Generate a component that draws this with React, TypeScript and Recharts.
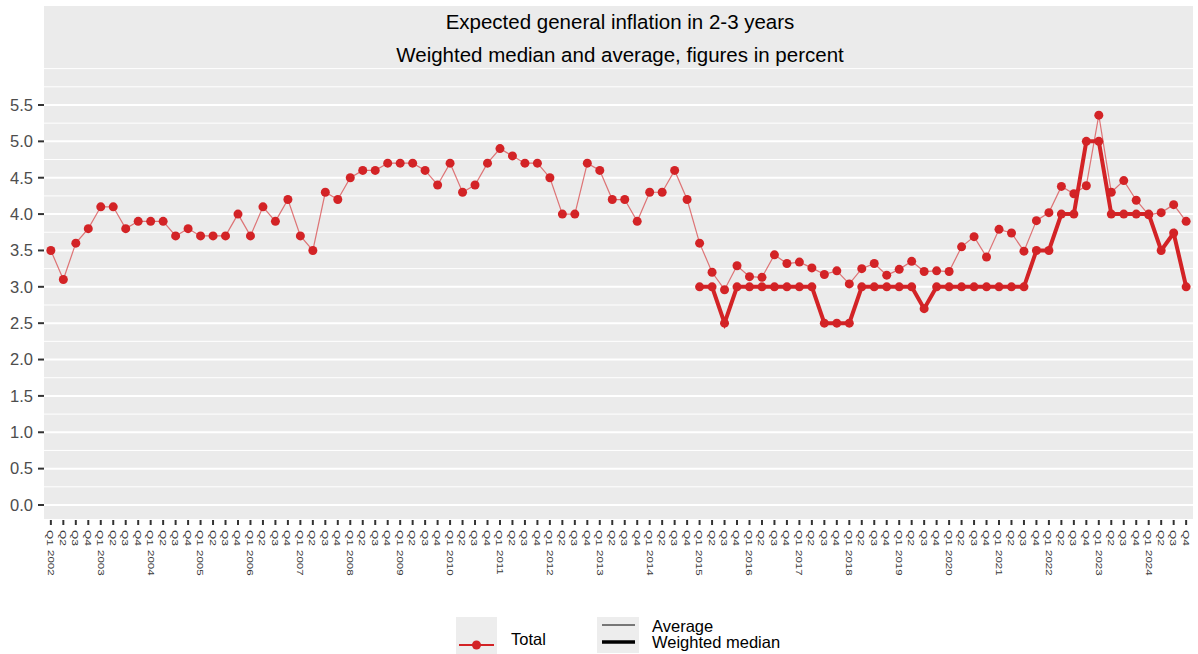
import { CartesianGrid, Line, LineChart, ReferenceLine, XAxis, YAxis } from "recharts";

const YEARS = [
  2002, 2003, 2004, 2005, 2006, 2007, 2008, 2009, 2010, 2011, 2012, 2013,
  2014, 2015, 2016, 2017, 2018, 2019, 2020, 2021, 2022, 2023, 2024,
];
const QUARTERS = ["Q1", "Q2", "Q3", "Q4"];

// Average, one value per quarter from Q1 2002 to Q4 2024
const AVERAGE = [
  3.5, 3.1, 3.6, 3.8,
  4.1, 4.1, 3.8, 3.9,
  3.9, 3.9, 3.7, 3.8,
  3.7, 3.7, 3.7, 4.0,
  3.7, 4.1, 3.9, 4.2,
  3.7, 3.5, 4.3, 4.2,
  4.5, 4.6, 4.6, 4.7,
  4.7, 4.7, 4.6, 4.4,
  4.7, 4.3, 4.4, 4.7,
  4.9, 4.8, 4.7, 4.7,
  4.5, 4.0, 4.0, 4.7,
  4.6, 4.2, 4.2, 3.9,
  4.3, 4.3, 4.6, 4.2,
  3.6, 3.2, 2.96, 3.29,
  3.14, 3.13, 3.44, 3.32,
  3.34, 3.26, 3.17, 3.22,
  3.04, 3.25, 3.32, 3.16,
  3.24, 3.35, 3.21, 3.22,
  3.21, 3.55, 3.69, 3.41,
  3.79, 3.74, 3.49, 3.91,
  4.02, 4.38, 4.28, 4.39,
  5.36, 4.3, 4.46, 4.19,
  3.99, 4.02, 4.13, 3.9,
];

// Weighted median, Q1 2015 to Q4 2024
const WEIGHTED_MEDIAN = [
  3.0, 3.0, 2.5, 3.0,
  3.0, 3.0, 3.0, 3.0,
  3.0, 3.0, 2.5, 2.5,
  2.5, 3.0, 3.0, 3.0,
  3.0, 3.0, 2.7, 3.0,
  3.0, 3.0, 3.0, 3.0,
  3.0, 3.0, 3.0, 3.5,
  3.5, 4.0, 4.0, 5.0,
  5.0, 4.0, 4.0, 4.0,
  4.0, 3.5, 3.74, 3.0,
];

const Y_TICKS = [0, 0.5, 1, 1.5, 2, 2.5, 3, 3.5, 4, 4.5, 5, 5.5];
const MINOR_GRID = [
  0.25, 0.75, 1.25, 1.75, 2.25, 2.75, 3.25, 3.75, 4.25, 4.75, 5.25, 5.75, 6,
];

const RED = "#D32326";
const FONT = "'Liberation Sans', Arial, sans-serif";

const periods = YEARS.flatMap((year) => QUARTERS.map((quarter) => ({ year, quarter })));
const medianOffset = AVERAGE.length - WEIGHTED_MEDIAN.length;

const rows = AVERAGE.map((value, i) => ({
  idx: i,
  quarter: periods[i].quarter,
  year: periods[i].year,
  average: value,
  median: i >= medianOffset ? WEIGHTED_MEDIAN[i - medianOffset] : null,
}));

function QuarterTick(props: any) {
  const { x, y, payload } = props;
  const row = rows[payload.value];
  if (!row) return null;
  return (
    <g>
      <line x1={x} x2={x} y1={y + 1} y2={y + 6} stroke="#333333" strokeWidth={2} />
      <g transform={`translate(${x},${y + 11}) rotate(90) scale(1,0.8)`}>
        <text x={0} y={0} fontSize={12} fill="#3A3A3A" dominantBaseline="central" fontFamily={FONT}>
          {row.quarter}
        </text>
      </g>
      {row.quarter === "Q1" && (
        <g transform={`translate(${x},${y + 31}) rotate(90) scale(1,0.8)`}>
          <text x={0} y={0} fontSize={11.5} fill="#3A3A3A" dominantBaseline="central" fontFamily={FONT}>
            {row.year}
          </text>
        </g>
      )}
    </g>
  );
}

export default function App() {
  return (
    <div style={{ position: "absolute", left: 0, top: 0, width: 1198, height: 654, background: "#fff" }}>
      <LineChart
        width={1198}
        height={654}
        data={rows}
        margin={{ top: 6, right: 5, bottom: 55, left: 0 }}
      >
        <CartesianGrid fill="#EBEBEB" horizontal={false} vertical={false} />
        {MINOR_GRID.map((v) => (
          <ReferenceLine key={`m${v}`} y={v} stroke="#FFFFFF" strokeWidth={1} />
        ))}
        {Y_TICKS.map((v) => (
          <ReferenceLine key={`M${v}`} y={v} stroke="#FFFFFF" strokeWidth={2} />
        ))}
        <XAxis
          dataKey="idx"
          type="number"
          domain={[-0.55, 91.55]}
          allowDataOverflow
          ticks={rows.map((r) => r.idx)}
          interval={0}
          tick={<QuarterTick />}
          tickLine={false}
          axisLine={false}
          tickSize={0}
          tickMargin={0}
          height={80}
        />
        <YAxis
          type="number"
          domain={[-0.1925, 6.861]}
          allowDataOverflow
          ticks={Y_TICKS}
          interval={0}
          tickFormatter={(v: number) => v.toFixed(1)}
          width={44}
          axisLine={false}
          tickSize={6}
          tickMargin={5}
          tickLine={{ stroke: "#333333", strokeWidth: 2 }}
          tick={{ fontSize: 16.5, fill: "#4D4D4D", fontFamily: FONT }}
        />
        <Line
          dataKey="average"
          type="linear"
          stroke={RED}
          strokeOpacity={0.6}
          strokeWidth={1.2}
          dot={{ r: 4.5, fill: RED, stroke: "none", fillOpacity: 1, strokeOpacity: 1 }}
          activeDot={false}
          isAnimationActive={false}
        />
        <Line
          dataKey="median"
          type="linear"
          stroke={RED}
          strokeWidth={4}
          connectNulls={false}
          dot={{ r: 4.5, fill: RED, stroke: "none", fillOpacity: 1 }}
          activeDot={false}
          isAnimationActive={false}
        />
      </LineChart>
      <svg
        width={1198}
        height={654}
        style={{ position: "absolute", left: 0, top: 0, pointerEvents: "none" }}
        fontFamily={FONT}
      >
        <text x={620} y={29} textAnchor="middle" fontSize={20.5} fill="#000">
          Expected general inflation in 2-3 years
        </text>
        <text x={620} y={62} textAnchor="middle" fontSize={20.5} fill="#000">
          Weighted median and average, figures in percent
        </text>

        <rect x={456} y={617} width={41} height={37} fill="#EDEDED" />
        <line x1={459} x2={494} y1={645} y2={645} stroke={RED} strokeWidth={2} />
        <circle cx={476.5} cy={645} r={4.5} fill={RED} />
        <text x={511} y={645} fontSize={16.5} fill="#000">Total</text>

        <rect x={597} y={617} width={42} height={36} fill="#EDEDED" />
        <line x1={602} x2={635} y1={625} y2={625} stroke="#000" strokeWidth={1} />
        <line x1={602} x2={635} y1={642} y2={642} stroke="#000" strokeWidth={3.5} />
        <text x={652} y={632} fontSize={16.5} fill="#000">Average</text>
        <text x={652} y={648} fontSize={16.5} fill="#000">Weighted median</text>
      </svg>
    </div>
  );
}
